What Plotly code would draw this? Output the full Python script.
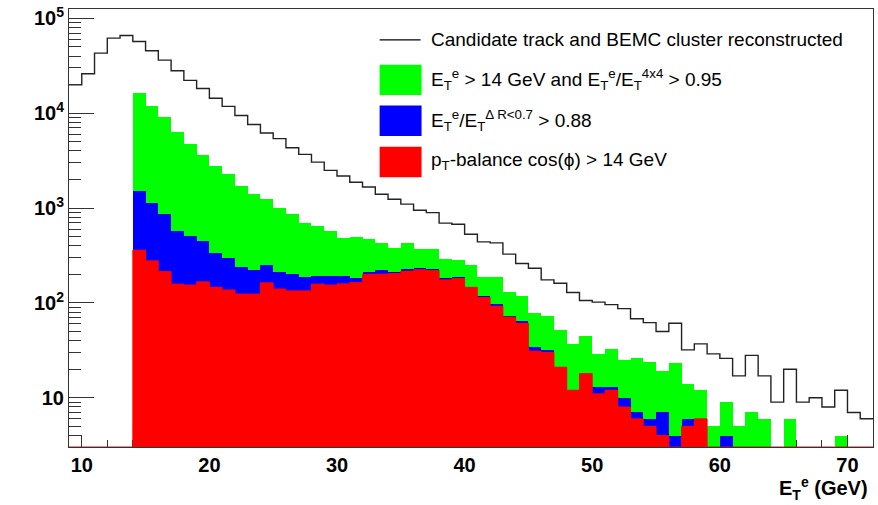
import plotly.graph_objects as go

# ---------------- data (1 GeV bins, low edges 9..71) ----------------
bin_low = list(range(9, 72))

black_counts = [20000, 26100, 43000, 62000, 66000, 57000, 45600, 36300, 28100, 22200,
                18200, 14400, 11800, 9460, 7600, 6200, 5400, 4320, 3680, 3050,
                2500, 2180, 1870, 1670, 1400, 1240, 1100, 950, 895, 694,
                676, 530, 440, 430, 327, 260, 232, 175, 161, 129,
                106, 102, 96, 87, 68, 62, 50, 61, 32, 37,
                29, 26, 17, 28, 17, 9, 20, 9, 10, 8,
                12, 7, 6]

green_counts = [0, 0, 0, 0, 0, 16300, 12000, 9080, 6270, 4780,
                3640, 2790, 2270, 1720, 1410, 1240, 995, 860, 702, 648,
                574, 488, 500, 470, 433, 376, 433, 366, 366, 293,
                283, 250, 186, 186, 129, 119, 78, 72, 52, 37,
                45, 29, 33, 25, 26, 24, 19, 23, 14, 12,
                5, 9, 5, 7, 6, 0, 6, 0, 0, 0,
                4, 0, 0]

blue_counts = [0, 0, 0, 0, 0, 1510, 1140, 860, 574, 505,
               451, 340, 301, 242, 222, 250, 213, 204, 189, 193,
               193, 193, 185, 214, 222, 213, 227, 233, 227, 183,
               187, 149, 119, 98, 73, 65, 34, 32, 21, 12,
               18, 13, 13, 10, 7, 6, 7, 4, 6, 6,
               0, 4, 0, 0, 0, 0, 0, 0, 0, 0,
               0, 0, 0]

red_counts = [0, 0, 0, 0, 0, 360, 278, 214, 158, 154,
              167, 146, 137, 124, 124, 163, 140, 134, 134, 158,
              154, 159, 164, 200, 201, 204, 216, 224, 220, 175,
              181, 146, 114, 92, 71, 61, 31, 30, 21, 12,
              18, 11, 12, 8, 6, 5, 4, 0, 5, 6,
              0, 0, 0, 0, 0, 0, 0, 0, 0, 0,
              0, 0, 0]

y_tick_vals = [10, 100, 1000, 10000, 100000]
y_tick_text = ["10", "10<sup>2</sup>", "10<sup>3</sup>", "10<sup>4</sup>", "10<sup>5</sup>"]

legend_labels = [
    "Candidate track and BEMC cluster reconstructed",
    "E<sub>T</sub><sup>e</sup> &gt; 14 GeV and E<sub>T</sub><sup>e</sup>/E<sub>T</sub><sup>4x4</sup> &gt; 0.95",
    "E<sub>T</sub><sup>e</sup>/E<sub>T</sub><sup>\u0394 R&lt;0.7</sup> &gt; 0.88",
    "p<sub>T</sub>-balance cos(\u03d5) &gt; 14 GeV",
]

# ---------------- layout geometry ----------------
W, H = 878, 505
L, R, T, B = 69, 4, 7, 58
PW, PH = W - L - R, H - T - B
Y_LOG_RANGE = [0.481, 5.099]
X_RANGE = [9, 72]
FONT = "Liberation Sans, Arial, Helvetica, sans-serif"


def px(xp):
    return (xp - L) / PW


def py(yp):
    return (H - B - yp) / PH


centers = [b + 0.5 for b in bin_low]
edges = bin_low + [bin_low[-1] + 1]
ymin_val = 10 ** Y_LOG_RANGE[0]

fig = go.Figure()
for counts, col in [(green_counts, "#00ff00"), (blue_counts, "#0000ff"), (red_counts, "#ff0000")]:
    fig.add_trace(go.Bar(
        x=centers, y=[c if c > 0 else None for c in counts], width=1.0,
        marker=dict(color=col, line=dict(width=0)), showlegend=False, hoverinfo="skip"))

# red histogram outline (zero bins sit on the bottom of the frame)
red_line = [c if c > 0 else ymin_val for c in red_counts]
fig.add_trace(go.Scatter(x=edges, y=red_line + [red_line[-1]], mode="lines",
                         line=dict(color="#ff0000", width=1, shape="hv"),
                         showlegend=False, hoverinfo="skip"))

fig.add_trace(go.Scatter(x=edges, y=black_counts + [black_counts[-1]], mode="lines",
                         line=dict(color="#222222", width=1.4, shape="hv"),
                         showlegend=False, hoverinfo="skip"))

shapes = []
annotations = []
# legend: line sample
shapes.append(dict(type="line", xref="paper", yref="paper", x0=px(380), x1=px(421),
                   y0=py(38), y1=py(38), line=dict(color="black", width=1.2)))
box_colors = ["#00ff00", "#0000ff", "#ff0000"]
box_tops = [63, 104, 145.5]
for col, top in zip(box_colors, box_tops):
    shapes.append(dict(type="rect", xref="paper", yref="paper", x0=px(380), x1=px(422),
                       y0=py(top + 30.5), y1=py(top), fillcolor=col, line=dict(width=0)))
text_centers = [38, 78, 119, 160]
for lab, yc in zip(legend_labels, text_centers):
    annotations.append(dict(text=lab, xref="paper", yref="paper", x=px(429), y=py(yc),
                            xanchor="left", yanchor="middle", showarrow=False,
                            font=dict(family=FONT, size=19, color="black")))

annotations.append(dict(text="<b>E<sub>T</sub><sup>e</sup> (GeV)</b>", xref="paper", yref="paper",
                        x=px(871), y=py(489), xanchor="right", yanchor="middle", showarrow=False,
                        font=dict(family=FONT, size=20, color="black")))

fig.update_layout(
    width=W, height=H, margin=dict(l=L, r=R, t=T, b=B),
    paper_bgcolor="white", plot_bgcolor="white",
    barmode="overlay", bargap=0, showlegend=False,
    shapes=shapes, annotations=annotations,
    font=dict(family=FONT, color="black"),
)
fig.update_xaxes(range=X_RANGE, showgrid=False, zeroline=False,
                 showline=True, linecolor="#333333", linewidth=1, mirror=True,
                 ticks="inside", ticklen=12, tickcolor="#333333", tickwidth=1,
                 tickvals=[10, 20, 30, 40, 50, 60, 70],
                 minor=dict(ticks="inside", ticklen=7, dtick=2, tickcolor="#333333", showgrid=False),
                 tickfont=dict(family=FONT, size=20, color="black", weight="bold"),
                 layer="below traces")
fig.update_yaxes(type="log", range=Y_LOG_RANGE, showgrid=False, zeroline=False,
                 showline=True, linecolor="#333333", linewidth=1, mirror=True,
                 ticks="inside", ticklen=25, tickcolor="#333333", tickwidth=1,
                 tickvals=y_tick_vals, ticktext=y_tick_text,
                 minor=dict(ticks="inside", ticklen=12, dtick="D1", tickcolor="#333333", showgrid=False),
                 tickfont=dict(family=FONT, size=20, color="black", weight="bold"))

fig.write_html("out.html")
